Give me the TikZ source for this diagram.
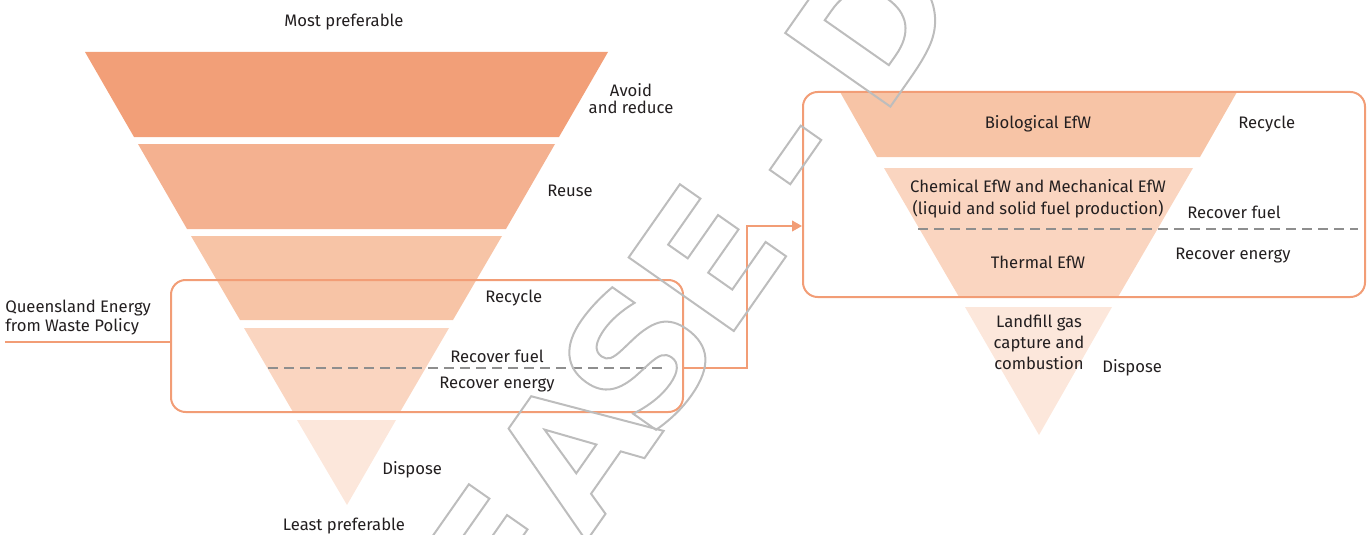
\documentclass[tikz,border=0pt]{standalone}
\usepackage{fontspec}
\setmainfont{Fira Sans}
\newfontfamily\stampfont{DejaVu Sans}
\usetikzlibrary{arrows.meta}

\definecolor{bandA}{HTML}{F29F78}
\definecolor{bandB}{HTML}{F4B190}
\definecolor{bandC}{HTML}{F7C4A6}
\definecolor{bandD}{HTML}{FAD5C0}
\definecolor{bandE}{HTML}{FCE7DB}
\definecolor{frameorange}{HTML}{F29D76}
\definecolor{cutgrey}{HTML}{8E8E8E}
\definecolor{stampgrey}{HTML}{BDBDBD}
\definecolor{ink}{HTML}{231F20}

\newcommand\outlined[1]{\special{pdf:literal direct 1 Tr 1.5 w}#1\special{pdf:literal direct 0 Tr}}

\tikzset{
  lbl/.style={font=\fontsize{12.5}{15}\selectfont, text=ink, inner sep=0pt, text height=1.5ex, text depth=.25ex, yshift=-1.5pt},
  multilbl/.style={font=\fontsize{12.5}{#1}\selectfont, text=ink, inner sep=0pt, align=center, yshift=-1.5pt},
  framebox/.style={draw=frameorange, line width=1.5pt, rounded corners=11pt, inner sep=0pt},
  link/.style={draw=frameorange, line width=1.5pt},
  cutline/.style={draw=cutgrey, line width=1.5pt, dash pattern=on 7.5pt off 4.5pt},
  stampletter/.style={font=\stampfont\bfseries\fontsize{132}{132}\selectfont, text=stampgrey, rotate=55, anchor=base, inner sep=0pt},
}

\begin{document}
\begin{tikzpicture}[x=0.75pt, y=-0.75pt]
    \useasboundingbox (0,0) rectangle (1370,535);

    % Left hierarchy
    \fill[bandA] (85,52) -- (608,52) -- (559,137) -- (134,137) -- cycle;
    \fill[bandB] (138,144) -- (555,144) -- (506,229) -- (187,229) -- cycle;
    \fill[bandC] (191,236) -- (502,236) -- (453,320) -- (240,320) -- cycle;
    \fill[bandD] (244,328) -- (449,328) -- (400,412) -- (293,412) -- cycle;
    \fill[bandE] (297,420) -- (396,420) -- (347,505) -- cycle;

    % Right hierarchy
    \fill[bandC] (840,92) -- (1237,92) -- (1200,157) -- (877,157) -- cycle;
    \fill[bandD] (884,168) -- (1193,168) -- (1118,297) -- (959,297) -- cycle;
    \fill[bandE] (965,307) -- (1112,307) -- (1039,435) -- cycle;

    % Fuel / energy split
    \coordinate (lcutA) at (268,368);
    \coordinate (lcutB) at (668,368);
    \coordinate (rcutA) at (918,229);
    \coordinate (rcutB) at (1358,229);
    \draw[cutline] (lcutA) -- (lcutB);
    \draw[cutline] (rcutA) -- (rcutB);

    % Policy frames
    \node[framebox, minimum width=384pt, minimum height=99pt] (lbox) at (427,346) {};
    \node[framebox, minimum width=421.5pt, minimum height=153.75pt] (rbox) at (1084,194.5) {};

    % Left labels
    \node[lbl] (most) at (344,20) {Most preferable};
    \node[multilbl=12.75pt] (avoid) at (631,97) {Avoid\\and reduce};
    \node[lbl, anchor=west] (reuse) at (547,190) {Reuse};
    \node[lbl, anchor=west] (recycle) at (485,296) {Recycle};
    \node[lbl, anchor=west] (fuel) at (450,356) {Recover fuel};
    \node[lbl, anchor=west] (energy) at (439,382) {Recover energy};
    \node[lbl, anchor=west] (dispose) at (382,468) {Dispose};
    \node[lbl] (least) at (344,524.5) {Least preferable};
    \node[multilbl=14.25pt, align=left, anchor=west] (policy) at (5,316) {Queensland Energy\\from Waste Policy};

    % Right labels
    \node[lbl] (bio) at (1038,122) {Biological EfW};
    \node[lbl, anchor=west] (rrecycle) at (1238,122) {Recycle};
    \node[multilbl=16.5pt] (chem) at (1038,197) {Chemical EfW and Mechanical EfW\\(liquid and solid fuel production)};
    \node[lbl, anchor=west] (rfuel) at (1187,212) {Recover fuel};
    \node[lbl, anchor=west] (renergy) at (1175,253) {Recover energy};
    \node[lbl] (thermal) at (1038,262) {Thermal EfW};
    \node[multilbl=15.75pt] (landfill) at (1039,340) {Landfill gas\\capture and\\combustion};
    \node[lbl, anchor=west] (rdispose) at (1102,366) {Dispose};

    % Connectors
    \coordinate (policyend) at (5,342);
    \draw[link] (policyend) -- (lbox.west |- policyend);
    \coordinate (turn) at (747,226);
    \draw[link, -{Triangle[length=7.5pt, width=8pt]}] (lbox.east |- lcutB) -| (turn) -- (rbox.west |- turn);

    % Stamp
    \node[stampletter] (stE) at (548,595) {\outlined{E}};
    \node[stampletter] (stA) at (625,486) {\outlined{A}};
    \node[stampletter] (stS) at (690,393) {\outlined{S}};
    \node[stampletter] (stE2) at (759,295) {\outlined{E}};
    \node[stampletter] (stdash) at (837,184) {\outlined{-}};
    \node[stampletter] (stD) at (923,60) {\outlined{D}};
\end{tikzpicture}
\end{document}
